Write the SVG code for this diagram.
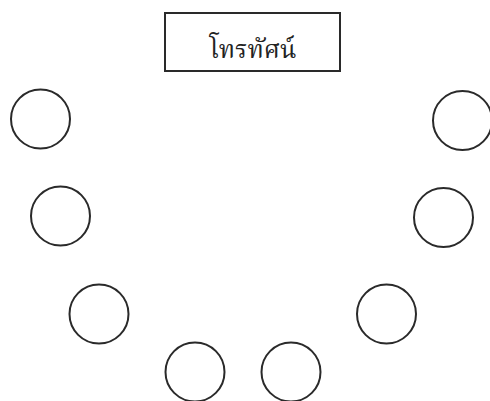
<svg xmlns="http://www.w3.org/2000/svg" width="490" height="401" viewBox="0 0 490 401">
<style>
.n{fill:none;stroke:#2a2a2a;stroke-width:2}
.t{font-family:"Noto Serif Thai","Noto Sans Thai","Noto Sans","DejaVu Sans",sans-serif;font-size:25px;fill:#222;text-anchor:middle}
</style>
<rect width="490" height="401" fill="#fff"/>
<g id="tv"><rect class="n" x="165" y="13" width="175" height="58"/><text class="t" x="253" y="58">โทรทัศน์</text></g>
<g id="c1"><circle class="n" cx="40.5" cy="119" r="29.5"/></g>
<g id="c2"><circle class="n" cx="60.5" cy="216" r="29.5"/></g>
<g id="c3"><circle class="n" cx="99" cy="314" r="29.5"/></g>
<g id="c4"><circle class="n" cx="195" cy="372" r="29.5"/></g>
<g id="c5"><circle class="n" cx="291" cy="372" r="29.5"/></g>
<g id="c6"><circle class="n" cx="386.5" cy="314" r="29.5"/></g>
<g id="c7"><circle class="n" cx="443.5" cy="217.5" r="29.5"/></g>
<g id="c8"><circle class="n" cx="462.5" cy="120.5" r="29.5"/></g>
<g id="connectors"></g>
</svg>
